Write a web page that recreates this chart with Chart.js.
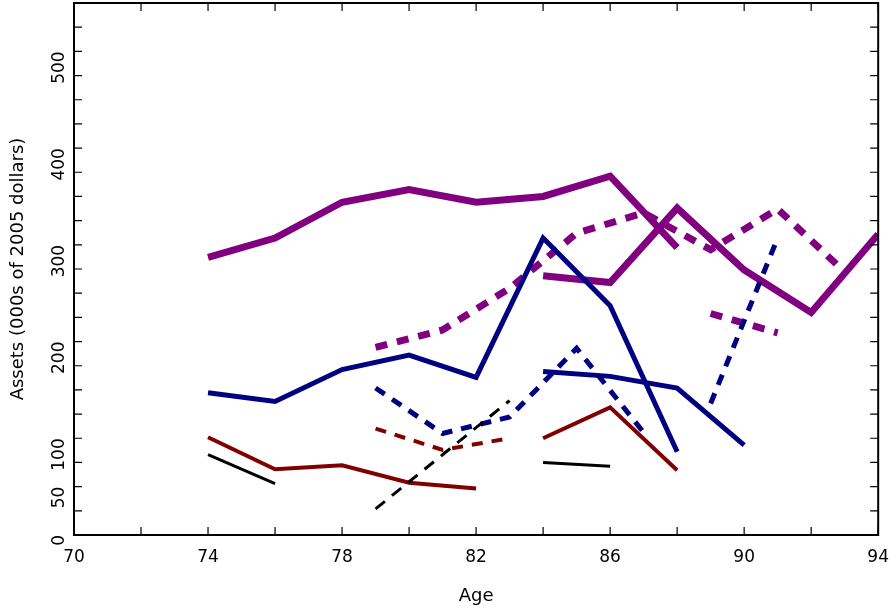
<!DOCTYPE html>
<html>
<head>
<meta charset="utf-8">
<script src="https://cdn.jsdelivr.net/npm/chart.js@4/dist/chart.umd.min.js"></script>
<style>
  html, body { margin: 0; padding: 0; background: #fff; }
  #wrap { width: 893px; height: 611px; }
</style>
</head>
<body>
<div id="wrap"><canvas id="c"></canvas></div>
<script>
// Ages and asset values (000s of 2005 dollars), one array per line segment
const agesEven1 = [74, 76, 78, 80, 82, 84, 86, 88];
const purpleSolid1 = [287, 307, 344, 357, 344, 350, 371, 297];
const agesPurple2 = [84, 86, 88, 90, 92, 94];
const purpleSolid2 = [268, 261, 338, 274, 230, 311];
const agesPurpleDash1 = [79, 81, 83, 85, 87, 89, 91, 93];
const purpleDash1 = [194, 212, 255, 312, 333, 295, 337, 272];
const agesPurpleDash2 = [89, 91];
const purpleDash2 = [229, 209];

const navySolid1 = [147, 138, 171, 186, 163, 307, 237, 86];
const agesNavy2 = [84, 86, 88, 90];
const navySolid2 = [169, 164, 152, 93];
const agesNavyDash1 = [79, 81, 83, 85, 87];
const navyDash1 = [152, 105, 122, 193, 106];
const agesNavyDash2 = [89, 91];
const navyDash2 = [136, 307];

const agesRed1 = [74, 76, 78, 80, 82];
const redSolid1 = [101, 68, 72, 54, 48];
const agesRed2 = [84, 86, 88];
const redSolid2 = [100, 132, 67];
const agesRedDash = [79, 81, 83];
const redDash = [110, 88, 100];

const agesBlack1 = [74, 76];
const blackSolid1 = [83, 53];
const agesBlack2 = [84, 86];
const blackSolid2 = [75, 71];
const agesBlackDash = [79, 81, 83];
const blackDash = [27, 83, 139];

const xLabels = [70, 74, 78, 82, 86, 90, 94];
const yLabels = [0, 50, 100, 200, 300, 400, 500];

const PURPLE = '#800080', NAVY = '#000080', RED = '#800000', BLACK = '#000000';

function seg(ages, vals, color, width, dash){
  return {
    data: ages.map((a, i) => ({ x: a, y: vals[i] })),
    borderColor: color,
    borderWidth: width,
    borderDash: dash || [],
    pointRadius: 0,
    fill: false,
    tension: 0,
    borderCapStyle: 'butt',
    borderJoinStyle: 'miter',
  };
}

// inward ticks on all four sides + frame
const frame = {
  id: 'frame',
  afterDraw(chart){
    const { ctx, chartArea: a, scales } = chart;
    ctx.save();
    ctx.strokeStyle = '#000';
    ctx.lineWidth = 2;
    ctx.strokeRect(a.left, a.top, a.right - a.left, a.bottom - a.top);
    ctx.lineWidth = 1.2;
    ctx.beginPath();
    for(let v = 70; v <= 94; v += 2){
      const px = scales.x.getPixelForValue(v);
      ctx.moveTo(px, a.bottom); ctx.lineTo(px, a.bottom - 8);
      ctx.moveTo(px, a.top); ctx.lineTo(px, a.top + 8);
    }
    for(let v = 0; v <= 550; v += 25){
      const py = scales.y.getPixelForValue(v);
      ctx.moveTo(a.left, py); ctx.lineTo(a.left + 8, py);
      ctx.moveTo(a.right, py); ctx.lineTo(a.right - 8, py);
    }
    ctx.stroke();
    ctx.restore();
  }
};

new Chart(document.getElementById('c'), {
  type: 'line',
  data: {
    datasets: [
      seg(agesBlack1, blackSolid1, BLACK, 3),
      seg(agesBlack2, blackSolid2, BLACK, 3),
      seg(agesBlackDash, blackDash, BLACK, 3, [12, 9]),
      seg(agesRed1, redSolid1, RED, 4),
      seg(agesRed2, redSolid2, RED, 4),
      seg(agesRedDash, redDash, RED, 4, [11, 9]),
      seg(agesEven1, navySolid1, NAVY, 5),
      seg(agesNavy2, navySolid2, NAVY, 5),
      seg(agesNavyDash1, navyDash1, NAVY, 5, [11, 9]),
      seg(agesNavyDash2, navyDash2, NAVY, 5, [11, 9]),
      seg(agesEven1, purpleSolid1, PURPLE, 7),
      seg(agesPurple2, purpleSolid2, PURPLE, 7),
      seg(agesPurpleDash1, purpleDash1, PURPLE, 7, [12, 10]),
      seg(agesPurpleDash2, purpleDash2, PURPLE, 7, [12, 10]),
    ]
  },
  options: {
    responsive: true,
    maintainAspectRatio: false,
    animation: false,
    layout: { padding: { top: 3, right: 13, left: 4, bottom: 2 } },
    plugins: { legend: { display: false }, tooltip: { enabled: false } },
    scales: {
      x: {
        type: 'linear', min: 70, max: 94,
        afterBuildTicks: (s) => { s.ticks = xLabels.map(v => ({ value: v })); },
        grid: { display: false },
        border: { display: false },
        ticks: { color: '#000', font: { family: 'DejaVu Sans', size: 17 }, padding: 4, maxRotation: 0 },
        title: { display: true, text: 'Age', color: '#000', font: { family: 'DejaVu Sans', size: 18 }, padding: { top: 14, bottom: 2 } }
      },
      y: {
        min: 0, max: 550,
        afterBuildTicks: (s) => { s.ticks = yLabels.map(v => ({ value: v })); },
        afterFit: (s) => { s.paddingTop = 0; s.paddingBottom = 0; },
        grid: { display: false },
        border: { display: false },
        ticks: { color: '#000', font: { family: 'DejaVu Sans', size: 17 }, padding: 6, maxRotation: 90, minRotation: 90 },
        title: { display: true, text: 'Assets (000s of 2005 dollars)', color: '#000', font: { family: 'DejaVu Sans', size: 18 }, padding: { bottom: 4 } }
      }
    }
  },
  plugins: [frame]
});
</script>
</body>
</html>
